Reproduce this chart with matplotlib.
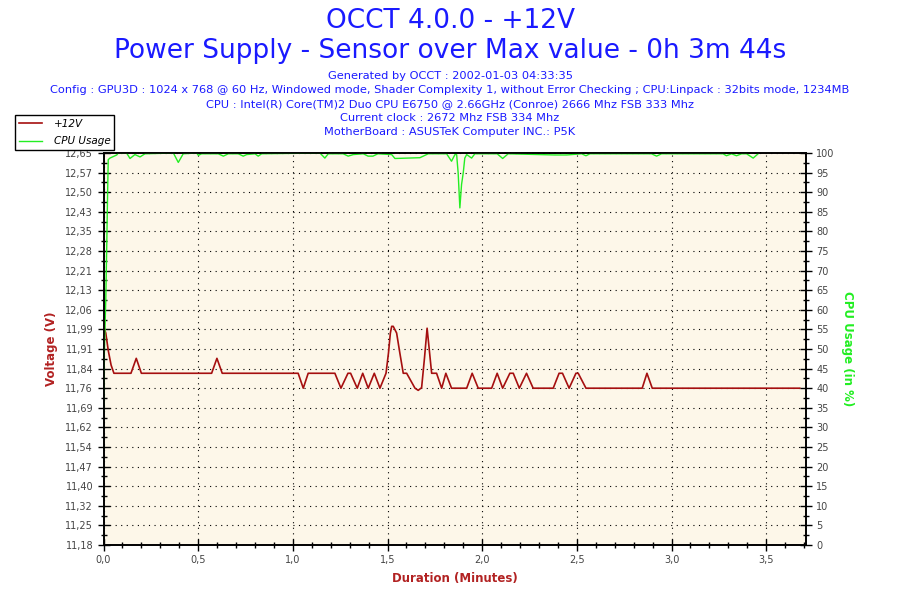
"""OCCT +12V センサーグラフの再現"""
import matplotlib
matplotlib.use("Agg")
import matplotlib.pyplot as plt
from matplotlib.ticker import MultipleLocator, FixedLocator, FuncFormatter
import numpy as np

plt.rcParams["font.family"] = ["DejaVu Sans"]

# +12V 電圧 (分, V)
volt_t = [0.0, 0.005, 0.012, 0.025, 0.040, 0.055, 0.145, 0.173, 0.200, 0.571,
          0.599, 0.627, 1.028, 1.055, 1.081, 1.222, 1.254, 1.291, 1.305, 1.340,
          1.369, 1.398, 1.430, 1.460, 1.492, 1.505, 1.515, 1.522, 1.530, 1.548,
          1.565, 1.583, 1.601, 1.645, 1.662, 1.680, 1.695, 1.709, 1.733, 1.759,
          1.786, 1.808, 1.838, 1.918, 1.947, 1.979, 2.050, 2.079, 2.108, 2.146,
          2.164, 2.196, 2.234, 2.269, 2.375, 2.406, 2.424, 2.459, 2.495, 2.507,
          2.548, 2.845, 2.870, 2.898, 3.677]
volt_v = [12.03, 11.99, 11.975, 11.91, 11.855, 11.824, 11.824, 11.88, 11.824, 11.824,
          11.88, 11.824, 11.824, 11.768, 11.824, 11.824, 11.768, 11.824, 11.824, 11.768,
          11.824, 11.768, 11.824, 11.768, 11.824, 11.90, 11.975, 12.0, 12.0, 11.975,
          11.90, 11.824, 11.824, 11.768, 11.76, 11.77, 11.88, 11.993, 11.824, 11.824,
          11.768, 11.824, 11.768, 11.768, 11.824, 11.768, 11.768, 11.824, 11.768, 11.824,
          11.824, 11.768, 11.824, 11.768, 11.768, 11.824, 11.824, 11.768, 11.824, 11.824,
          11.768, 11.768, 11.824, 11.768, 11.768]

# CPU 使用率 (分, %)
cpu_t = [0.0, 0.004, 0.012, 0.017, 0.022, 0.025, 0.034, 0.070, 0.078, 0.122,
         0.140, 0.166, 0.193, 0.219, 0.369, 0.395, 0.421, 0.492, 0.501, 0.518,
         0.606, 0.633, 0.659, 0.712, 0.738, 0.756, 0.800, 0.817, 0.835, 1.143,
         1.169, 1.187, 1.266, 1.292, 1.319, 1.372, 1.397, 1.423, 1.449, 1.522,
         1.539, 1.671, 1.715, 1.812, 1.838, 1.856, 1.865, 1.873, 1.882, 1.891,
         1.900, 1.908, 1.918, 1.944, 1.961, 2.079, 2.108, 2.137, 2.384, 2.446,
         2.525, 2.548, 2.569, 2.894, 2.921, 2.947, 3.272, 3.290, 3.317, 3.343,
         3.370, 3.396, 3.431, 3.457]
cpu_v = [34, 48, 62.5, 76, 90.5, 98.3, 98.7, 99.5, 100, 100,
         98.6, 99.6, 99.0, 99.8, 100, 97.6, 99.8, 100, 99.4, 99.8,
         99.8, 99.2, 99.8, 99.8, 99.2, 99.6, 99.8, 99.2, 99.8, 100,
         98.7, 99.8, 99.8, 99.2, 99.6, 99.8, 99.2, 99.2, 99.8, 99.6,
         98.6, 98.8, 99.8, 99.8, 97.9, 99.6, 99.6, 94.9, 86, 92,
         95, 98.7, 99.6, 98.7, 99.8, 99.8, 98.6, 99.8, 99.5, 99.5,
         99.8, 99.3, 99.8, 99.8, 99.2, 99.8, 99.8, 99.3, 99.8, 99.3,
         99.8, 99.8, 98.7, 99.8]

volt_ticklabels = ["11,18", "11,25", "11,32", "11,40", "11,47", "11,54", "11,62",
                   "11,69", "11,76", "11,84", "11,91", "11,99", "12,06", "12,13",
                   "12,21", "12,28", "12,35", "12,43", "12,50", "12,57", "12,65"]
volt_min, volt_max = 11.18, 12.65
t_max = 3.71

header_lines = [
    "Generated by OCCT : 2002-01-03 04:33:35",
    "Config : GPU3D : 1024 x 768 @ 60 Hz, Windowed mode, Shader Complexity 1, "
    "without Error Checking ; CPU:Linpack : 32bits mode, 1234MB",
    "CPU : Intel(R) Core(TM)2 Duo CPU E6750 @ 2.66GHz (Conroe) 2666 Mhz FSB 333 Mhz",
    "Current clock : 2672 Mhz FSB 334 Mhz",
    "MotherBoard : ASUSTeK Computer INC.: P5K",
]

RED = "#a50f0f"
GREEN = "#22ee22"
BLUE = "#1a1aff"
TICK = "#444444"

fig = plt.figure(figsize=(9, 6), dpi=100)
ax = fig.add_axes([103.5 / 900, 1 - 545 / 600, (806 - 103.5) / 900, (545 - 153) / 600])
ax.set_facecolor("#fdf7e9")
ax2 = ax.twinx()

l1, = ax.plot(volt_t, volt_v, color=RED, lw=1.2, label="+12V", zorder=3)
l2, = ax2.plot(cpu_t, cpu_v, color=GREEN, lw=1.0, label="CPU Usage")

ax.set_xlim(0, t_max)
ax.set_ylim(volt_min, volt_max)
ax2.set_ylim(0, 100)

# 軸目盛
yt = np.linspace(volt_min, volt_max, len(volt_ticklabels))
ax.yaxis.set_major_locator(FixedLocator(yt))
ax.set_yticklabels(volt_ticklabels)
ax.yaxis.set_minor_locator(FixedLocator((yt[:-1] + yt[1:]) / 2))
ax.xaxis.set_major_locator(MultipleLocator(0.5))
ax.xaxis.set_minor_locator(MultipleLocator(0.1))
ax.xaxis.set_major_formatter(FuncFormatter(lambda v, p: f"{v:.1f}".replace(".", ",")))
ax2.yaxis.set_major_locator(MultipleLocator(5))
ax2.yaxis.set_minor_locator(MultipleLocator(2.5))

for a in (ax, ax2):
    a.tick_params(which="major", direction="inout", length=9, width=1,
                  labelsize=7, labelcolor=TICK, pad=3)
    a.tick_params(which="minor", direction="inout", length=4.5, width=1)
    for s in a.spines.values():
        s.set_linewidth(1.2)

ax.grid(True, which="major", color="black", linestyle=(0, (1, 4)), linewidth=0.8)
ax.set_axisbelow(True)

ax.set_ylabel("Voltage (V)", color="#b22222", fontsize=8.5, fontweight="bold", labelpad=5)
ax2.set_ylabel("CPU Usage (in %)", color=GREEN, fontsize=8.5, fontweight="bold",
               rotation=270, labelpad=14)
ax.set_xlabel("Duration (Minutes)", color="#b22222", fontsize=8.5, fontweight="bold",
              labelpad=5)

# タイトル
fig.text(0.5, 1 - 21 / 600, "OCCT 4.0.0 - +12V", ha="center", va="center",
         fontsize=19, color=BLUE)
fig.text(0.5, 1 - 51 / 600, "Power Supply - Sensor over Max value - 0h 3m 44s",
         ha="center", va="center", fontsize=19, color=BLUE)
for i, line in enumerate(header_lines):
    fig.text(0.5, 1 - (76 + 14 * i) / 600, line, ha="center", va="center",
             fontsize=8.2, color=BLUE)

leg = fig.legend(handles=[l1, l2], loc="upper left",
                 bbox_to_anchor=(15 / 900, 1 - 115 / 600), fancybox=False,
                 framealpha=1, edgecolor="black", borderpad=0.35, borderaxespad=0,
                 handlelength=2.2, handletextpad=1.2, labelspacing=0.75,
                 prop={"size": 7.5, "style": "italic"})
leg.get_frame().set_linewidth(1)

fig.savefig("out.png", dpi=100, facecolor="white")
